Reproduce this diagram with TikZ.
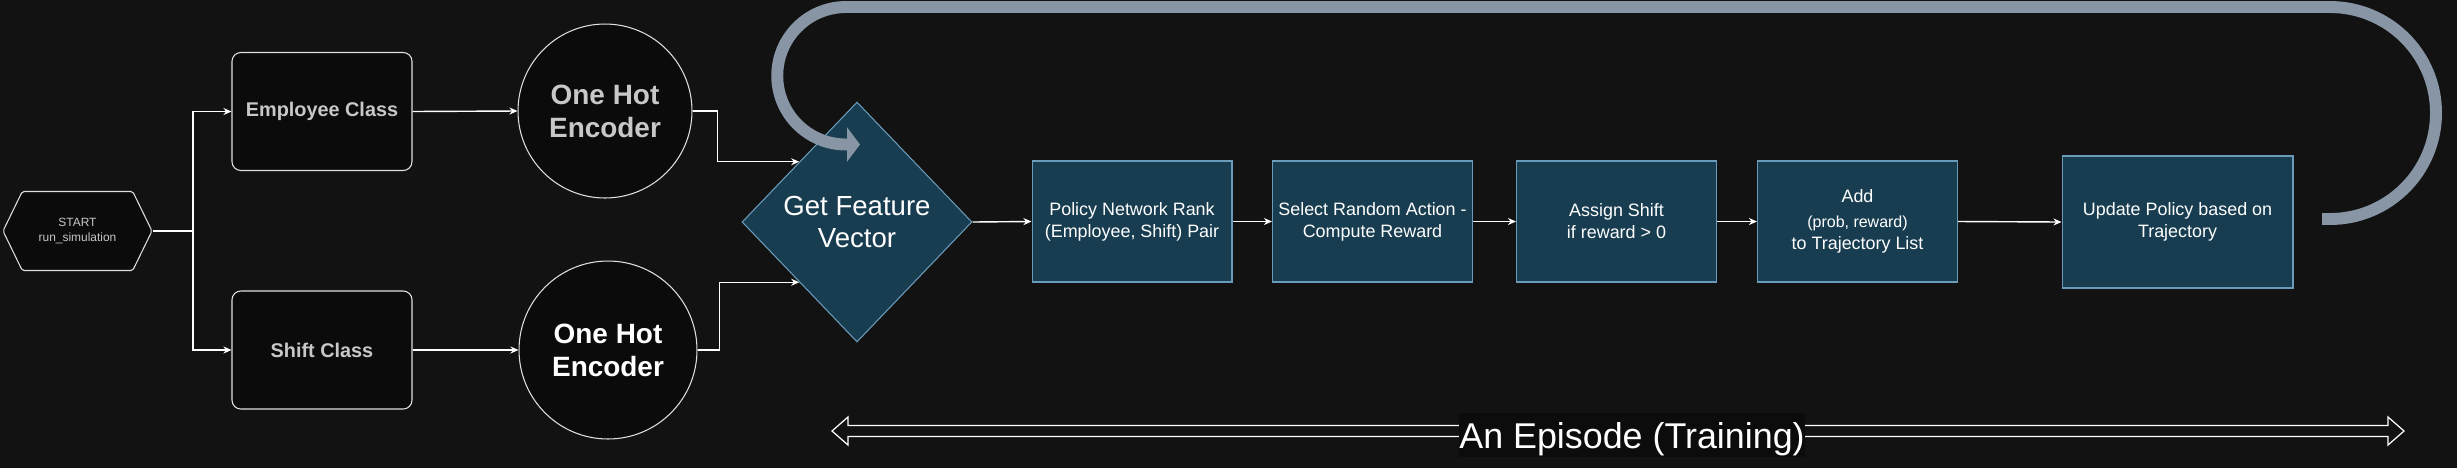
\documentclass[tikz,border=0pt]{standalone}
\usepackage{fontspec}
\setmainfont{Liberation Sans}
\usetikzlibrary{arrows.meta,shapes.geometric,shapes.symbols}
\definecolor{canvas}{HTML}{121212}
\definecolor{inkbox}{HTML}{0B0B0B}
\definecolor{tealfill}{HTML}{183D50}
\definecolor{tealline}{HTML}{6A9BB9}
\definecolor{greytext}{HTML}{C8C8C8}
\definecolor{loopgrey}{HTML}{8795A4}
\definecolor{labelbg}{HTML}{0C0C0C}
\tikzset{
  px/.style={x=0.02cm, y=-0.02cm},
  conn/.style={white, line width=0.8pt, -{Stealth[length=4.6pt, width=4pt]}},
  startbox/.style={signal, signal to=west and east, signal pointer angle=128,
    draw=white!88!black, fill=inkbox, line width=0.6pt, rounded corners=1pt,
    minimum width=2.98cm, minimum height=1.58cm, inner sep=0pt, align=center,
    text=greytext, font=\fontsize{6.8}{8.6}\selectfont},
  classbox/.style={rectangle, rounded corners=5pt, draw=white!88!black, fill=inkbox,
    line width=0.6pt, minimum width=3.6cm, minimum height=2.36cm,
    text=greytext, font=\bfseries\fontsize{11.3}{13.6}\selectfont},
  encoder/.style={circle, draw=white!88!black, fill=inkbox, line width=0.6pt,
    inner sep=0pt, align=center, font=\bfseries\fontsize{15.9}{18.7}\selectfont},
  featbox/.style={diamond, draw=tealline, fill=tealfill, line width=0.6pt, inner sep=0pt,
    minimum width=4.6cm, minimum height=4.8cm, align=center, text=white,
    font=\fontsize{15.7}{18.7}\selectfont},
  stepbox/.style={rectangle, draw=tealline, fill=tealfill, line width=0.6pt,
    minimum width=4cm, minimum height=2.42cm, align=center, text=white,
    font=\fontsize{10.2}{12.5}\selectfont},
  loopband/.style={loopgrey, line width=6.8pt, -{Triangle[length=7.4pt, width=19.3pt]}},
  episode/.style={draw=white, line width=0.7pt, fill=canvas},
  episodelabel/.style={fill=labelbg, inner xsep=0pt, inner ysep=0pt, text height=19.8pt,
    text depth=5.1pt, text=white, font=\fontsize{20.4}{24}\selectfont},
}

\begin{document}
\begin{tikzpicture}[px]
  % canvas 2457 x 468 px, y grows downwards
  \fill[canvas] (0,0) rectangle (2457,468);
  \useasboundingbox (0,0) rectangle (2457,468);

  % --- inputs ---
  \node[startbox] (start) at (77.5,231) {START\\run\_simulation};
  \node[classbox] (emp) at (322,111.5) {Employee Class};
  \node[classbox] (shift) at (322,350) {Shift Class};
  \coordinate (split) at (193,231);

  % --- one hot encoders ---
  \node[encoder, minimum size=3.48cm, text=greytext] (enc1) at (605,111) {One Hot\\Encoder};
  \node[encoder, minimum size=3.56cm, text=white] (enc2) at (608,350) {One Hot\\Encoder};

  % --- episode steps ---
  \node[featbox] (feat) at (857,222) {Get Feature\\Vector};
  \node[stepbox] (rank) at (1132,221.5) {Policy Network Rank\\(Employee, Shift) Pair};
  \node[stepbox] (act) at (1372.5,221.5) {Select Random Action -\\Compute Reward};
  \node[stepbox] (assign) at (1616.5,221.5) {Assign Shift\\if reward > 0};
  \node[stepbox] (traj) at (1857.5,221.5)
       {Add\\[1.6pt]\fontsize{9.1}{10.4}\selectfont (prob, reward)\\to Trajectory List};
  \node[stepbox, minimum width=4.62cm, minimum height=2.64cm] (update) at (2177.5,222)
       {Update Policy based on\\Trajectory};

  % --- connectors ---
  \draw[conn] (start.east) -- (split) |- (emp.west);
  \draw[conn] (split) |- (shift.west);
  \draw[conn] (emp.east) -- (enc1.west);
  \draw[conn] (shift.east) -- (enc2.west);
  \draw[conn] (enc1.east) -- ++(25,0) |- (feat.north west);
  \draw[conn] (enc2.east) -- ++(22,0) |- (feat.south west);
  \draw[conn] (feat.east) -- (rank.west);
  \draw[conn] (rank.east) -- (act.west);
  \draw[conn] (act.east) -- (assign.west);
  \draw[conn] (assign.east) -- (traj.west);
  \draw[conn] (traj.east) -- (update.west);

  % --- loop back to the feature vector ---
  \coordinate (loopstart) at (2322,219);
  \coordinate (looptip) at (860,144.5);
  \draw[loopband] (loopstart) -- (2330,219) arc[start angle=90, end angle=-90, radius=106]
       -- (846,7) arc[start angle=-90, end angle=-270, radius=68.75] -- (looptip);

  % --- episode span ---
  \draw[episode] (832,431) -- (848,417) -- (848,425.5) -- (2388,425.5) -- (2388,417)
       -- (2404,431) -- (2388,445) -- (2388,436.5) -- (848,436.5) -- (848,445) -- cycle;
  \node[episodelabel, anchor=base] (span) at (1632,448) {An Episode (Training)};
\end{tikzpicture}
\end{document}
